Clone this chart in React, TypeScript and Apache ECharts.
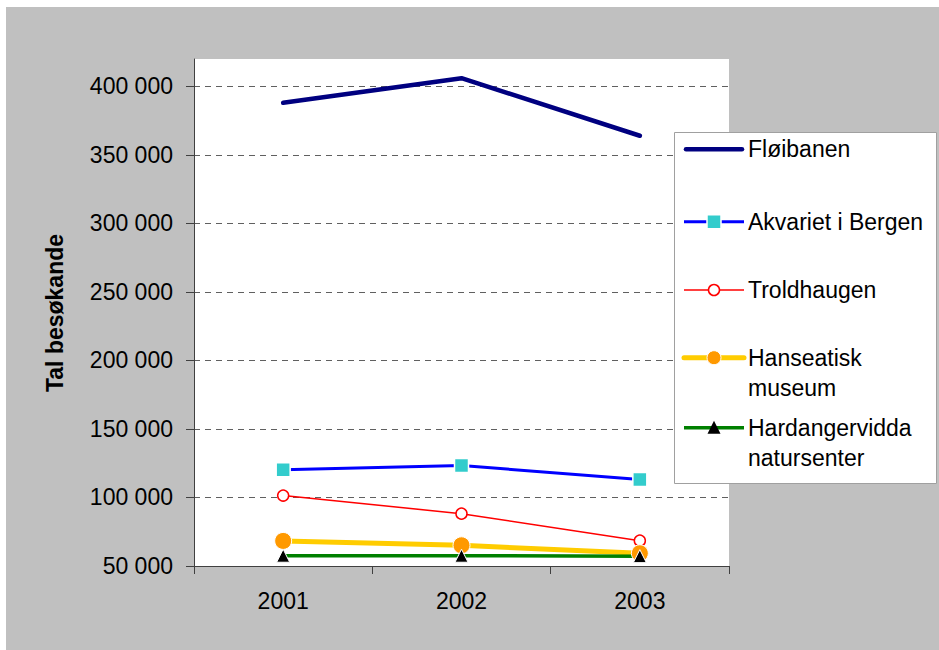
import React, { useEffect, useRef } from "react";
import * as echarts from "echarts";

const years = ["2001", "2002", "2003"];
const floibanen = [388000, 406000, 364000];
const akvariet = [120200, 123300, 113100];
const troldhaugen = [101400, 88200, 68500];
const hanseatisk = [68300, 65100, 59300];
const hardangervidda = [57500, 57500, 57200];
const yMin = 50000;
const yMax = 420000;
const yStep = 50000;
const yTitle = "Tal besøkande";
const legendNames = [
  "Fløibanen",
  "Akvariet i Bergen",
  "Troldhaugen",
  "Hanseatisk\nmuseum",
  "Hardangervidda\nnatursenter",
];

const FONT = "'Liberation Sans', Arial, sans-serif";

function fmt(v: number): string {
  return String(v).replace(/\B(?=(\d{3})+(?!\d))/g, " ");
}

export default function App() {
  const ref = useRef<HTMLDivElement>(null);
  useEffect(() => {
    if (!ref.current) return;
    const chart = echarts.init(ref.current, undefined, { renderer: "svg" });

    const legendX1 = 678;
    const legendX2 = 738;
    const legendSymX = 708;
    const textX = 742;
    const rows = [142.3, 214.7, 283, 350.7, 420.7];
    const legendGraphics: any[] = [
      {
        type: "rect",
        shape: { x: 668.5, y: 125.5, width: 262, height: 351 },
        style: { fill: "#ffffff", stroke: "#a0a0a0", lineWidth: 1 },
        z: 10,
      },
      { type: "line", shape: { x1: legendX1 + 2, y1: rows[0], x2: legendX2 - 2, y2: rows[0] }, style: { stroke: "#000080", lineWidth: 4.5, lineCap: "round" }, z: 11 },
      { type: "line", shape: { x1: legendX1, y1: rows[1], x2: legendX2, y2: rows[1] }, style: { stroke: "#0000ff", lineWidth: 3 }, z: 11 },
      { type: "rect", shape: { x: legendSymX - 7, y: rows[1] - 7, width: 14, height: 14 }, style: { fill: "#33cccc", stroke: "#ffffff", lineWidth: 1.5 }, z: 12 },
      { type: "line", shape: { x1: legendX1, y1: rows[2], x2: legendX2, y2: rows[2] }, style: { stroke: "#ff0000", lineWidth: 1.5 }, z: 11 },
      { type: "circle", shape: { cx: legendSymX, cy: rows[2], r: 5.5 }, style: { fill: "#ffffff", stroke: "#ff0000", lineWidth: 1.5 }, z: 12 },
      { type: "line", shape: { x1: legendX1, y1: rows[3], x2: legendX2, y2: rows[3] }, style: { stroke: "#ffcc00", lineWidth: 5, lineCap: "round" }, z: 11 },
      { type: "circle", shape: { cx: legendSymX, cy: rows[3], r: 7 }, style: { fill: "#ff9900", stroke: "#ffffff", lineWidth: 1 }, z: 12 },
      { type: "line", shape: { x1: legendX1, y1: rows[4], x2: legendX2, y2: rows[4] }, style: { stroke: "#008000", lineWidth: 3.5 }, z: 11 },
      { type: "polygon", shape: { points: [[legendSymX, rows[4] - 7], [legendSymX + 6.5, rows[4] + 6], [legendSymX - 6.5, rows[4] + 6]] }, style: { fill: "#000000" }, z: 12 },
    ];
    legendNames.forEach((name, i) => {
      legendGraphics.push({
        type: "text",
        x: textX,
        y: rows[i] - 15,
        style: {
          text: name,
          font: `23px ${FONT}`,
          fill: "#000000",
          textAlign: "left",
          textVerticalAlign: "top",
          lineHeight: 30,
        },
        z: 12,
      });
    });

    chart.setOption({
      animation: false,
      backgroundColor: "#c0c0c0",
      grid: {
        left: 188,
        top: 52,
        right: 210,
        bottom: 84,
        show: true,
        backgroundColor: "#ffffff",
        borderWidth: 0,
      },
      xAxis: {
        type: "category",
        data: years,
        boundaryGap: true,
        axisLine: { lineStyle: { color: "#404040", width: 1 } },
        axisTick: { show: true, length: 8, inside: false, lineStyle: { color: "#404040" } },
        axisLabel: { color: "#000", fontSize: 23, fontFamily: FONT, margin: 23 },
        splitLine: { show: false },
      },
      yAxis: {
        type: "value",
        min: yMin,
        max: yMax,
        interval: yStep,
        axisLine: { show: true, lineStyle: { color: "#404040", width: 1 } },
        axisTick: { show: true, length: 8, lineStyle: { color: "#404040" } },
        axisLabel: {
          color: "#000",
          fontSize: 23,
          fontFamily: FONT,
          margin: 21,
          showMaxLabel: false,
          formatter: (v: number) => fmt(v),
        },
        splitLine: {
          show: true,
          showMinLine: false,
          showMaxLine: false,
          lineStyle: { color: "#606060", type: [6, 5], width: 1 },
        },
      },
      graphic: [
        { type: "rect", shape: { x: 176, y: 48, width: 11.5, height: 8 }, style: { fill: "#c0c0c0" }, z: 20 },
        {
          type: "text",
          x: 49,
          y: 306,
          rotation: Math.PI / 2,
          style: {
            text: yTitle,
            font: `bold 23px ${FONT}`,
            fill: "#000",
            textAlign: "center",
            textVerticalAlign: "middle",
          },
        },
        ...legendGraphics,
      ],
      series: [
        {
          name: "Fløibanen",
          type: "line",
          data: floibanen,
          symbol: "none",
          clip: false,
          lineStyle: { color: "#000080", width: 4.5, cap: "round", join: "round" },
          itemStyle: { color: "#000080" },
        },
        {
          name: "Akvariet i Bergen",
          type: "line",
          data: akvariet,
          symbol: "rect",
          symbolSize: 14,
          lineStyle: { color: "#0000ff", width: 3 },
          itemStyle: { color: "#33cccc", borderColor: "#ffffff", borderWidth: 1.5 },
        },
        {
          name: "Troldhaugen",
          type: "line",
          data: troldhaugen,
          symbol: "circle",
          symbolSize: 11,
          lineStyle: { color: "#ff0000", width: 1.5 },
          itemStyle: { color: "#ffffff", borderColor: "#ff0000", borderWidth: 1.5 },
        },
        {
          name: "Hanseatisk museum",
          type: "line",
          data: hanseatisk,
          symbol: "circle",
          symbolSize: 17,
          lineStyle: { color: "#ffcc00", width: 5 },
          itemStyle: { color: "#ff9900", borderColor: "#ffffff", borderWidth: 1 },
        },
        {
          name: "Hardangervidda natursenter",
          type: "line",
          data: hardangervidda,
          symbol: "triangle",
          symbolSize: 13,
          lineStyle: { color: "#008000", width: 3.5 },
          itemStyle: { color: "#000000", borderColor: "#ffffff", borderWidth: 1 },
        },
      ],
    });
    return () => chart.dispose();
  }, []);
  return (
    <div
      ref={ref}
      style={{ position: "absolute", left: 6, top: 7, width: 933, height: 643 }}
    />
  );
}
